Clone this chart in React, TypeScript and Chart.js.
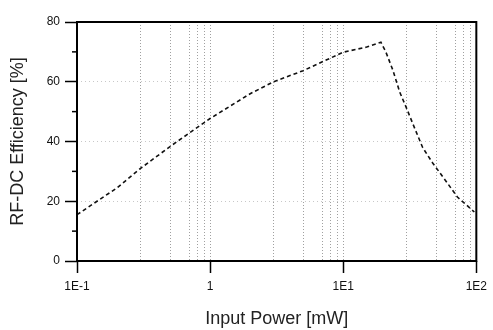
import React, { useEffect, useRef } from 'react';
import { Chart, registerables } from 'chart.js';

Chart.register(...registerables);

// Input power [mW] and RF-DC efficiency [%]
const powerMw = [0.1, 0.2, 0.3, 0.5, 1, 2, 3, 5, 10, 15, 19.2, 20.9, 23.6, 26.6, 30, 33.3, 39.5, 47, 60.8, 72.1, 81.3, 96.6];
const efficiencyPct = [15.5, 24.5, 31, 38.3, 47.7, 56, 60, 63.7, 69.9, 71.6, 73.2, 70, 63.9, 56.5, 51, 46, 38, 32.8, 26, 21.4, 19.4, 16.4];

const xMajorTicks = [0.1, 1, 10, 100];
const xMajorLabels = ['1E-1', '1', '1E1', '1E2'];
const xMinorMultiples = [3, 5, 7, 8, 9];
const yTickValues = [0, 20, 40, 60, 80];
const yMinorTicks = [10, 30, 50, 70];

const xTitle = 'Input Power [mW]';
const yTitle = 'RF-DC Efficiency [%]';

const isMajor = (v: number) => xMajorTicks.some((m) => Math.abs(m - v) / m < 1e-6);

const framePlugin = {
  id: 'frame',
  afterDatasetsDraw(chart: any) {
    const { ctx, chartArea } = chart;
    const { left, right, top, bottom } = chartArea;
    ctx.save();
    ctx.strokeStyle = '#000';
    ctx.lineWidth = 2;
    ctx.setLineDash([]);
    ctx.strokeRect(left, top, right - left, bottom - top);
    ctx.lineWidth = 1.5;
    const ys = chart.scales.y;
    yMinorTicks.forEach((v) => {
      const py = ys.getPixelForValue(v);
      ctx.beginPath();
      ctx.moveTo(left - 5, py);
      ctx.lineTo(left, py);
      ctx.stroke();
    });
    ctx.restore();
  },
};

export default function App() {
  const ref = useRef<HTMLCanvasElement | null>(null);

  useEffect(() => {
    document.body.style.margin = '0';
    if (!ref.current) return;
    const allXTicks: number[] = [];
    for (let d = -1; d <= 2; d++) {
      const base = Math.pow(10, d);
      allXTicks.push(base);
      if (d < 2) xMinorMultiples.forEach((k) => allXTicks.push(+(k * base).toPrecision(6)));
    }
    const chart = new Chart(ref.current, {
      type: 'line',
      data: {
        datasets: [
          {
            data: powerMw.map((x, i) => ({ x, y: efficiencyPct[i] })),
            borderColor: '#111',
            borderWidth: 1.6,
            borderDash: [4, 3],
            pointRadius: 0,
            tension: 0,
            fill: false,
          },
        ],
      },
      options: {
        responsive: false,
        animation: false,
        layout: { padding: { top: 22, right: 12, left: 0, bottom: 0 } },
        plugins: { legend: { display: false }, tooltip: { enabled: false } },
        scales: {
          x: {
            type: 'logarithmic',
            min: 0.1,
            max: 100,
            afterBuildTicks: (s: any) => {
              s.ticks = allXTicks.map((v) => ({ value: v, major: isMajor(v) }));
            },
            afterFit: (s: any) => {
              s.height = 69;
            },
            ticks: {
              autoSkip: false,
              maxRotation: 0,
              padding: 6,
              color: '#111',
              font: { family: 'Liberation Sans', size: 12 },
              callback: (v: any) => {
                const idx = xMajorTicks.findIndex((m) => Math.abs(m - Number(v)) / m < 1e-6);
                return idx >= 0 ? xMajorLabels[idx] : '';
              },
            },
            grid: {
              color: '#a0a0a0',
              lineWidth: 1,
              drawTicks: true,
              tickLength: 12,
              tickColor: (c: any) => (c.tick && isMajor(c.tick.value) ? '#000' : 'rgba(0,0,0,0)'),
              tickWidth: 1.5,
              tickBorderDash: [],
            },
            border: { display: false, dash: [1, 2] },
            title: {
              display: true,
              text: xTitle,
              color: '#222',
              font: { family: 'Liberation Sans', size: 18 },
              padding: { top: 0, bottom: 0 },
            },
          },
          y: {
            type: 'linear',
            min: 0,
            max: 80,
            afterBuildTicks: (s: any) => {
              s.ticks = yTickValues.map((v) => ({ value: v }));
            },
            afterFit: (s: any) => {
              s.width = 77;
            },
            ticks: {
              padding: 5,
              color: '#111',
              font: { family: 'Liberation Sans', size: 12 },
            },
            grid: {
              color: '#c8c8c8',
              lineWidth: 1,
              tickLength: 12,
              tickColor: '#000',
              tickWidth: 1.5,
              tickBorderDash: [],
            },
            border: { display: false, dash: [1, 3] },
            title: {
              display: true,
              text: yTitle,
              color: '#222',
              font: { family: 'Liberation Sans', size: 18 },
              padding: { top: 7, bottom: 0 },
            },
          },
        },
      },
      plugins: [framePlugin],
    } as any);
    return () => chart.destroy();
  }, []);

  return (
    <div style={{ position: 'absolute', left: 0, top: 0, width: 493, height: 330, background: '#fff' }}>
      <canvas ref={ref} width={493} height={330} />
    </div>
  );
}
